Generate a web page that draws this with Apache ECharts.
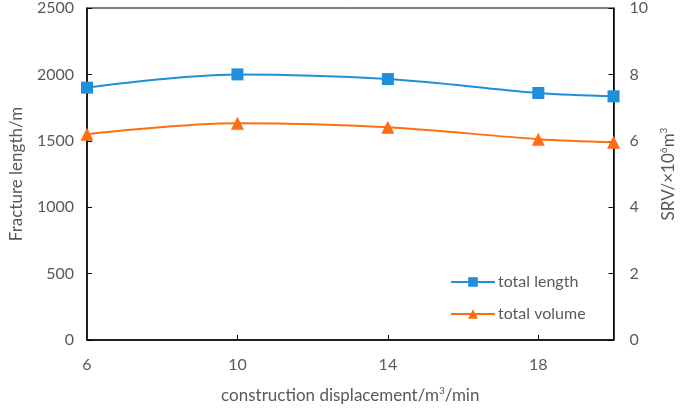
<!DOCTYPE html>
<html>
<head>
<meta charset="utf-8">
<title>Fracture length and SRV</title>
<script src="https://cdn.jsdelivr.net/npm/echarts@6/dist/echarts.min.js"></script>
<style>
  html, body { margin: 0; padding: 0; background: #fff; }
  #main { width: 685px; height: 409px; }
</style>
</head>
<body>
<div id="main"></div>
<script type="text/javascript">
// displacement (m3/min)
var displacement = [6, 10, 14, 18, 20];
var xTickLabels = [6, 10, 14, 18];
// fracture length, m
var totalLength = [1900, 2000, 1965, 1860, 1835];
// SRV, x10^6 m3
var totalVolume = [6.2, 6.53, 6.41, 6.05, 5.96];

var txt = '#595959';
var font = 'Lato, "Open Sans", sans-serif';

function pairs(xs, ys) {
    var out = [];
    for (var i = 0; i < xs.length; i++) out.push([xs[i], ys[i]]);
    return out;
}

var chart = echarts.init(document.getElementById('main'));

var supStyle = { fontSize: 10, verticalAlign: 'top', color: txt, fontFamily: font, padding: [0, 0, 9, 0] };

var option = {
    animation: false,
    textStyle: { fontFamily: font },
    grid: {
        left: 81, right: 65, top: 8, bottom: 67,
        show: true, borderColor: '#000', borderWidth: 1
    },
    legend: {
        orient: 'vertical',
        left: 445, top: 269,
        itemWidth: 44, itemHeight: 12, itemGap: 16,
        textStyle: { color: txt, fontSize: 16, fontFamily: font, padding: [0, 0, 0, -2] },
        data: ['total length', 'total volume']
    },
    xAxis: {
        type: 'value',
        min: 6, max: 20,
        name: 'construction displacement/m{sup|3}/min',
        nameLocation: 'middle',
        nameGap: 46,
        nameTextStyle: { color: txt, fontSize: 17, fontFamily: font, rich: { sup: supStyle } },
        axisLine: { lineStyle: { color: '#000', width: 1.5 } },
        axisTick: { inside: true, length: 5, lineStyle: { color: '#000' }, customValues: [10, 14, 18] },
        axisLabel: { color: txt, fontSize: 16, margin: 17, customValues: xTickLabels },
        splitLine: { show: false }
    },
    yAxis: [{
        type: 'value',
        min: 0, max: 2500, interval: 500,
        name: 'Fracture length/m',
        nameLocation: 'middle',
        nameGap: 62,
        nameRotate: 90,
        nameTextStyle: { color: txt, fontSize: 17, fontFamily: font },
        axisLine: { show: true, lineStyle: { color: '#000', width: 1.5 } },
        axisTick: { show: true, inside: true, length: 5, lineStyle: { color: '#000' } },
        axisLabel: { color: txt, fontSize: 16, margin: 13, formatter: function (v) { return String(v); } },
        splitLine: { show: false }
    }, {
        type: 'value',
        min: 0, max: 10, interval: 2,
        position: 'right',
        name: 'SRV/\u00d710{sup|6}m{sup|3}',
        nameLocation: 'middle',
        nameGap: 45,
        nameRotate: 90,
        nameTextStyle: { color: txt, fontSize: 17, fontFamily: font, rich: { sup: supStyle } },
        axisLine: { show: true, lineStyle: { color: '#000', width: 1.5 } },
        axisTick: { show: true, inside: true, length: 5, lineStyle: { color: '#000' } },
        axisLabel: { color: txt, fontSize: 16, margin: 16 },
        splitLine: { show: false }
    }],
    series: [{
        name: 'total length',
        type: 'line',
        yAxisIndex: 0,
        smooth: 0.35,
        symbol: 'rect',
        symbolSize: 12,
        itemStyle: { color: '#1E8FD8' },
        lineStyle: { color: '#1E8FD8', width: 2 },
        data: pairs(displacement, totalLength)
    }, {
        name: 'total volume',
        type: 'line',
        yAxisIndex: 1,
        smooth: 0.35,
        symbol: 'triangle',
        symbolSize: 13,
        itemStyle: { color: '#FF6D12' },
        lineStyle: { color: '#FF6D12', width: 2 },
        data: pairs(displacement, totalVolume)
    }]
};

chart.setOption(option);
</script>
</body>
</html>
